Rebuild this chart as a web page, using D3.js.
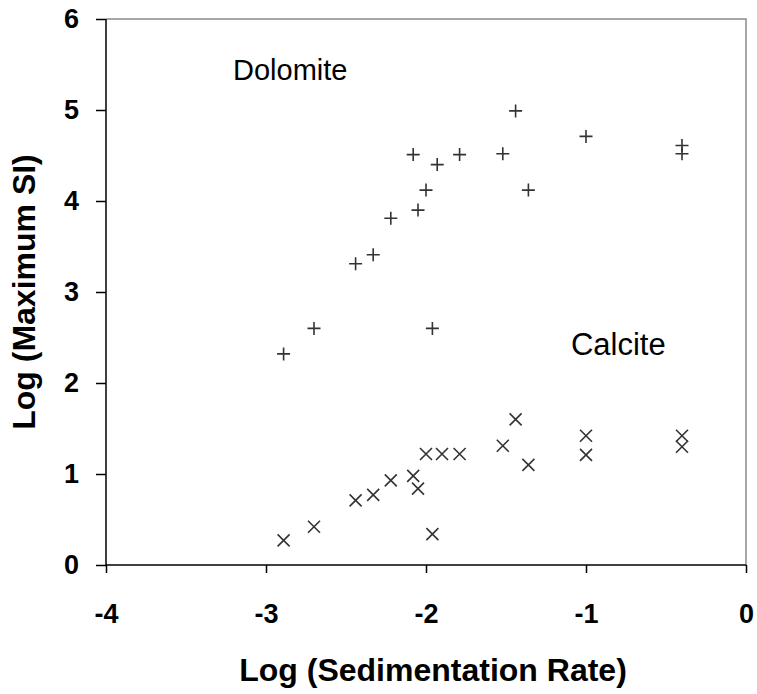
<!DOCTYPE html>
<html>
<head>
<meta charset="utf-8">
<script src="https://cdn.jsdelivr.net/npm/d3@7"></script>
<style>
  body { margin: 0; background: #fff; }
  svg { display: block; }
</style>
</head>
<body>
<div id="chart"></div>
<script>
// values
var dolomiteX = [-2.89, -2.70, -2.44, -2.33, -2.22, -2.05, -2.00, -2.08, -1.93, -1.79, -1.96, -1.52, -1.44, -1.36, -1.00, -0.40, -0.40];
var dolomiteY = [2.32, 2.60, 3.31, 3.41, 3.81, 3.90, 4.12, 4.51, 4.40, 4.51, 2.60, 4.52, 4.99, 4.12, 4.71, 4.61, 4.52];
var calciteX = [-2.89, -2.70, -2.44, -2.33, -2.22, -2.08, -2.05, -2.00, -1.90, -1.79, -1.96, -1.52, -1.44, -1.36, -1.00, -1.00, -0.40, -0.40];
var calciteY = [0.27, 0.42, 0.71, 0.77, 0.93, 0.98, 0.84, 1.22, 1.22, 1.22, 0.34, 1.31, 1.60, 1.10, 1.42, 1.21, 1.42, 1.30];
var xTicks = [-4, -3, -2, -1, 0];
var yTicks = [0, 1, 2, 3, 4, 5, 6];

var width = 757;
var height = 694;
var margin = {top: 19, right: 11, bottom: 129, left: 106};
var innerW = width - margin.left - margin.right;
var innerH = height - margin.top - margin.bottom;
var font = "'Liberation Sans', Arial, sans-serif";

var svg = d3.select('#chart').append('svg')
    .attr('width', width)
    .attr('height', height);

var g = svg.append('g')
    .attr('transform', 'translate(' + margin.left + ',' + margin.top + ')');

var xScale = d3.scaleLinear().domain([-4, 0]).range([0, innerW]);
var yScale = d3.scaleLinear().domain([0, 6]).range([innerH, 0]);

// grey frame on top and right
g.append('path')
    .attr('d', 'M0,0H' + innerW + 'V' + innerH)
    .attr('fill', 'none')
    .attr('stroke', '#8a8a8a')
    .attr('stroke-width', 1.5);

var xAxis = d3.axisBottom(xScale)
    .tickValues(xTicks)
    .tickSize(8)
    .tickPadding(31)
    .tickFormat(function (d) { return String(d); });

var yAxis = d3.axisLeft(yScale)
    .tickValues(yTicks)
    .tickSize(10)
    .tickPadding(17)
    .tickFormat(function (d) { return String(d); });

var gx = g.append('g')
    .attr('transform', 'translate(0,' + innerH + ')')
    .call(xAxis);
gx.select('.domain').attr('d', 'M0,0H' + innerW);

var gy = g.append('g').call(yAxis);
gy.select('.domain').attr('d', 'M0,0V' + innerH);

[gx, gy].forEach(function (ax) {
    ax.selectAll('.domain, .tick line').attr('stroke', '#000').attr('stroke-width', 1.5);
    ax.selectAll('.tick text')
        .attr('fill', '#000')
        .style('font', 'bold 27px ' + font);
});

// plus markers for dolomite
g.selectAll('path.dolomite')
    .data(dolomiteX.map(function (x, i) { return [x, dolomiteY[i]]; }))
    .enter()
    .append('path')
    .attr('class', 'dolomite')
    .attr('transform', function (d) { return 'translate(' + xScale(d[0]) + ',' + yScale(d[1]) + ')'; })
    .attr('d', 'M-6.5,0H6.5M0,-6.5V6.5')
    .attr('stroke', '#333')
    .attr('stroke-width', 1.6)
    .attr('fill', 'none');

// cross markers for calcite
g.selectAll('path.calcite')
    .data(calciteX.map(function (x, i) { return [x, calciteY[i]]; }))
    .enter()
    .append('path')
    .attr('class', 'calcite')
    .attr('transform', function (d) { return 'translate(' + xScale(d[0]) + ',' + yScale(d[1]) + ')'; })
    .attr('d', 'M-6,-6L6,6M-6,6L6,-6')
    .attr('stroke', '#333')
    .attr('stroke-width', 1.6)
    .attr('fill', 'none');

// series labels
g.append('text')
    .attr('x', xScale(-3.206))
    .attr('y', yScale(5.33))
    .style('font', '29px ' + font)
    .attr('fill', '#000')
    .text('Dolomite');

g.append('text')
    .attr('x', xScale(-1.094))
    .attr('y', yScale(2.31))
    .style('font', '31px ' + font)
    .attr('fill', '#000')
    .text('Calcite');

// axis titles
svg.append('text')
    .attr('x', 433)
    .attr('y', 681)
    .attr('text-anchor', 'middle')
    .style('font', 'bold 32px ' + font)
    .attr('fill', '#000')
    .text('Log (Sedimentation Rate)');

svg.append('text')
    .attr('transform', 'translate(35,' + (margin.top + innerH / 2) + ') rotate(-90)')
    .attr('text-anchor', 'middle')
    .style('font', 'bold 32px ' + font)
    .attr('fill', '#000')
    .text('Log (Maximum SI)');
</script>
</body>
</html>
